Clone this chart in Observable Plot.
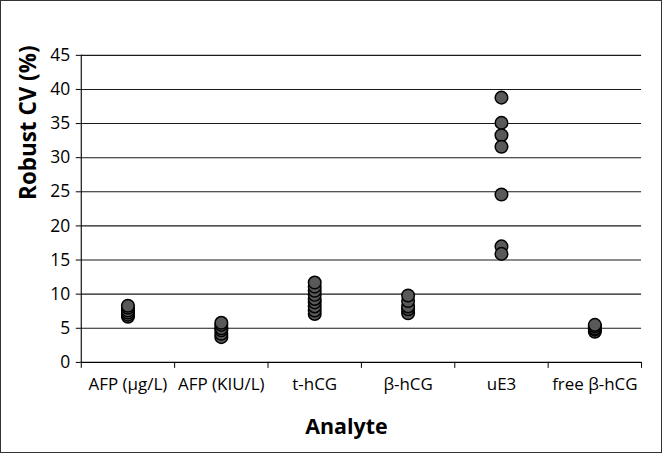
<!DOCTYPE html>
<html>
<head>
<meta charset="utf-8">
<script src="https://cdn.jsdelivr.net/npm/d3@7"></script>
<script src="https://cdn.jsdelivr.net/npm/@observablehq/plot@0.6"></script>
<style>
  html, body { margin: 0; padding: 0; background: #fff; }
  #chart { width: 662px; height: 453px; box-sizing: border-box; border: 1.5px solid #333; overflow: hidden; position: relative; }
  #chart svg { position: absolute; left: -1.5px; top: -1.5px; }
</style>
</head>
<body>
<div id="chart"></div>
<script>
const categories = ["AFP (µg/L)", "AFP (KIU/L)", "t-hCG", "β-hCG", "uE3", "free β-hCG"];
const afpUg = [6.7, 7.0, 7.3, 7.6, 8.0, 8.3];
const afpKiu = [3.7, 4.2, 4.7, 5.0, 5.5, 5.8];
const tHcg = [7.1, 7.6, 8.2, 8.8, 9.3, 9.9, 10.5, 11.1, 11.7];
const bHcg = [7.2, 7.8, 8.2, 9.0, 9.8];
const uE3 = [38.8, 35.1, 33.3, 31.6, 24.6, 17.0, 15.9];
const freeBHcg = [4.5, 4.8, 5.0, 5.3, 5.5];
const yTicks = [0, 5, 10, 15, 20, 25, 30, 35, 40, 45];
const yLabel = "Robust CV (%)";
const xLabel = "Analyte";

const series = [afpUg, afpKiu, tHcg, bHcg, uE3, freeBHcg];
const data = series.flatMap((vals, i) => vals.map(v => ({pos: i + 0.5, cat: categories[i], v})));
const boundaries = d3.range(categories.length + 1);
const centers = categories.map((c, i) => i + 0.5);

const plot = Plot.plot({
  width: 662,
  height: 453,
  marginLeft: 81,
  marginRight: 19,
  marginTop: 55,
  marginBottom: 90,
  style: {fontFamily: "'Open Sans', sans-serif", color: "#000", background: "#fff"},
  x: {domain: [0, categories.length], axis: null, label: null},
  y: {domain: [0, 45], axis: null, label: null},
  marks: [
    Plot.ruleY(yTicks.filter(d => d > 0), {stroke: "#1a1a1a", strokeWidth: 1.1}),
    Plot.axisY({ticks: yTicks, tickSize: 5, tickPadding: 6, fontSize: 17.5, tickFormat: d => d, stroke: "#000", label: null}),
    Plot.ruleX([0], {stroke: "#000", strokeWidth: 1.1}),
    Plot.ruleY([0], {stroke: "#000", strokeWidth: 1.1}),
    Plot.axisX({ticks: boundaries, tickSize: 6, tickFormat: () => "", stroke: "#000", label: null}),
    Plot.axisX({ticks: centers, tickSize: 0, tickPadding: 16, fontSize: 17, tickFormat: d => categories[Math.floor(d)], label: null}),
    Plot.text([yLabel], {frameAnchor: "left", rotate: -90, dx: -53, dy: -9, fontSize: 22.5, fontWeight: "bold", fill: "#000"}),
    Plot.text([xLabel], {frameAnchor: "bottom", dy: 72, dx: -15, fontSize: 21.5, fontWeight: "bold", fill: "#000"}),
    Plot.dot(data, {x: "pos", y: "v", r: 6.3, fill: "#595959", stroke: "#000", strokeWidth: 1.5})
  ]
});
document.getElementById("chart").appendChild(plot);
</script>
</body>
</html>
